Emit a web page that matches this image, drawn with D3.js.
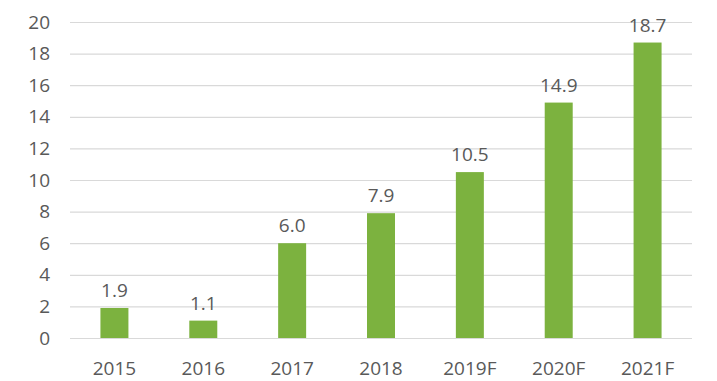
<!DOCTYPE html>
<html><head><meta charset="utf-8">
<script src="https://cdn.jsdelivr.net/npm/d3@7"></script>
<style>body{margin:0;background:#fff}text{font-family:"Open Sans",sans-serif}</style>
</head><body>
<svg id="c" width="717" height="381"></svg>
<script>
const categories = ["2015","2016","2017","2018","2019F","2020F","2021F"];
const values = [1.9,1.1,6.0,7.9,10.5,14.9,18.7];
const yTicks = [0,2,4,6,8,10,12,14,16,18,20];

const svg = d3.select("#c");
const x = d3.scaleBand().domain(categories).range([70,692]).paddingInner(0.685).paddingOuter(0.3425);
const y = d3.scaleLinear().domain([0,20]).range([338,22]);

svg.append("g").selectAll("line").data(yTicks).join("line")
  .attr("x1",70).attr("x2",692).attr("y1",d=>y(d)+0.5).attr("y2",d=>y(d)+0.5)
  .attr("stroke","#d9d9d9").attr("stroke-width",1.2);

const yAxis = svg.append("g").attr("transform","translate(50,0)")
  .call(d3.axisLeft(y).tickValues(yTicks).tickSize(0).tickPadding(0));
yAxis.select(".domain").remove();
yAxis.selectAll("text").attr("font-size",19).attr("fill","#595959").attr("font-family","Open Sans");

svg.append("g").selectAll("rect").data(values).join("rect")
  .attr("x",(d,i)=>x(categories[i])).attr("width",x.bandwidth())
  .attr("y",d=>y(d)).attr("height",d=>y(0)-y(d)).attr("fill","#7cb23f");

svg.append("g").selectAll("text").data(values).join("text")
  .attr("x",(d,i)=>x(categories[i])+x.bandwidth()/2).attr("y",d=>y(d)-11)
  .attr("text-anchor","middle").attr("font-size",19).attr("fill","#595959")
  .text(d=>d.toFixed(1));

const xAxis = svg.append("g").attr("transform","translate(0,375)")
  .call(d3.axisBottom(x).tickSize(0).tickPadding(0));
xAxis.select(".domain").remove();
xAxis.selectAll("text").attr("font-size",19).attr("fill","#595959").attr("font-family","Open Sans").attr("dy",0);
</script>
</body></html>
